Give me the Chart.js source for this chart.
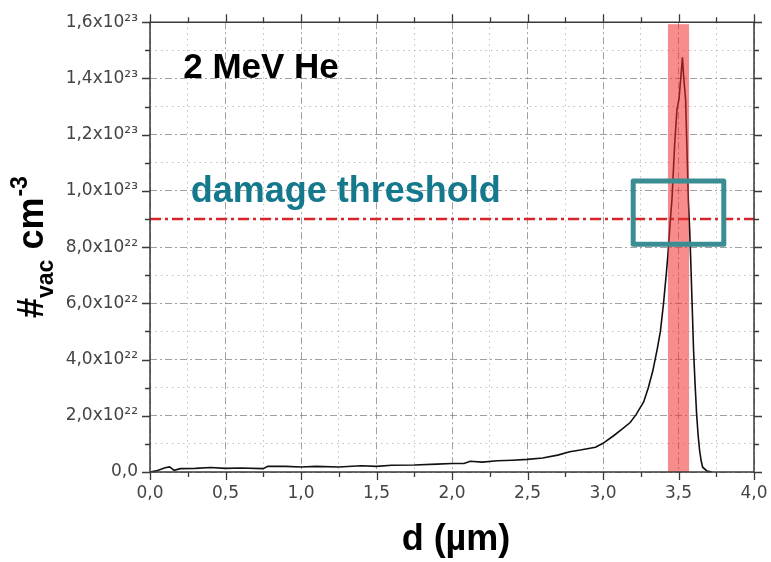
<!DOCTYPE html>
<html>
<head>
<meta charset="utf-8">
<script src="https://cdn.jsdelivr.net/npm/chart.js@4.4.1/dist/chart.umd.min.js"></script>
<style>
  html, body { margin: 0; padding: 0; background: #fff; }
  #wrap { width: 771px; height: 562px; }
</style>
</head>
<body>
<div id="wrap"><canvas id="vacChart"></canvas></div>
<script>
// depth in µm, vacancies in units of 1e22 cm^-3
const depth = [0, 0.05, 0.1, 0.13, 0.16, 0.2, 0.3, 0.4, 0.5, 0.6, 0.75, 0.78, 0.9, 1.0, 1.1, 1.25, 1.4, 1.5, 1.6, 1.75,
  1.9, 2.0, 2.08, 2.12, 2.2, 2.3, 2.4, 2.5, 2.6, 2.7, 2.78, 2.85, 2.95, 3.0, 3.07, 3.12, 3.18, 3.22, 3.27, 3.3,
  3.33, 3.36, 3.38, 3.4, 3.42, 3.43, 3.445, 3.457, 3.475, 3.49, 3.503, 3.515, 3.526, 3.535, 3.547, 3.556, 3.565,
  3.574, 3.58, 3.59, 3.6, 3.61, 3.62, 3.63, 3.64, 3.65, 3.66, 3.69, 3.72];
const vacancies = [0, 0.05, 0.15, 0.18, 0.06, 0.12, 0.13, 0.16, 0.13, 0.14, 0.12, 0.2, 0.2, 0.18, 0.2, 0.18, 0.22, 0.2, 0.24, 0.25,
  0.28, 0.3, 0.3, 0.38, 0.35, 0.4, 0.42, 0.45, 0.5, 0.6, 0.72, 0.78, 0.88, 1.02, 1.29, 1.5, 1.76, 2.05, 2.5, 3.0,
  3.6, 4.4, 5.0, 5.95, 7.1, 7.73, 8.9, 9.72, 11.7, 12.9, 13.25, 14.0, 14.75, 14.0, 13.25, 11.5, 9.7,
  8.6, 7.7, 6.0, 4.3, 3.1, 2.06, 1.3, 0.76, 0.4, 0.17, 0.03, 0];

const threshold = 9;               // 9e22
const peakBand = [3.43, 3.57];     // highlighted depth range
const markBox = [3.2, 3.8, 8.1, 10.35]; // x0, x1, y0, y1

const xTickLabels = ['0,0', '0,5', '1,0', '1,5', '2,0', '2,5', '3,0', '3,5', '4,0'];
const yTickLabels = ['0,0', '2,0x10²²', '4,0x10²²', '6,0x10²²', '8,0x10²²', '1,0x10²³', '1,2x10²³', '1,4x10²³', '1,6x10²³'];

const isMajorX = v => Math.abs(v * 2 - Math.round(v * 2)) < 1e-6;
const isMajorY = v => Math.abs(v / 2 - Math.round(v / 2)) < 1e-6;

const tickFont = { family: "'DejaVu Sans', sans-serif", size: 17 };

const extras = {
  id: 'extras',
  afterDatasetsDraw(chart) {
    const { ctx, chartArea: a, scales: { x, y } } = chart;
    ctx.save();
    // peak band
    ctx.fillStyle = 'rgba(238, 45, 45, 0.55)';
    const bx0 = x.getPixelForValue(peakBand[0]), bx1 = x.getPixelForValue(peakBand[1]);
    ctx.fillRect(bx0, a.top + 2, bx1 - bx0, a.bottom - a.top - 2);

    // teal box
    ctx.strokeStyle = '#3a8d92';
    ctx.lineWidth = 5;
    ctx.lineJoin = 'round';
    const rx0 = x.getPixelForValue(markBox[0]), rx1 = x.getPixelForValue(markBox[1]);
    const ry0 = y.getPixelForValue(markBox[3]), ry1 = y.getPixelForValue(markBox[2]);
    ctx.strokeRect(rx0, ry0, rx1 - rx0, ry1 - ry0);

    // frame
    ctx.strokeStyle = '#3a3a3a';
    ctx.lineWidth = 1.5;
    ctx.strokeRect(a.left, a.top, a.right - a.left, a.bottom - a.top);

    // ticks on all four sides, pointing out
    ctx.lineWidth = 1.3;
    ctx.beginPath();
    for (let v = 0; v <= 4.0001; v += 0.25) {
      const px = Math.round(x.getPixelForValue(v)) + 0.5;
      const len = isMajorX(v) ? 8 : 5;
      ctx.moveTo(px, a.bottom); ctx.lineTo(px, a.bottom + len);
      ctx.moveTo(px, a.top); ctx.lineTo(px, a.top - len);
    }
    for (let v = 0; v <= 16.0001; v += 1) {
      const py = Math.round(y.getPixelForValue(v)) + 0.5;
      const len = isMajorY(v) ? 8 : 5;
      ctx.moveTo(a.left, py); ctx.lineTo(a.left - len, py);
      ctx.moveTo(a.right, py); ctx.lineTo(a.right + len, py);
    }
    ctx.stroke();

    // labels in the plot
    ctx.textBaseline = 'alphabetic';
    ctx.textAlign = 'left';
    ctx.fillStyle = '#000';
    ctx.font = "bold 35px 'Liberation Sans', Arial, sans-serif";
    ctx.fillText('2 MeV He', x.getPixelForValue(0.22), y.getPixelForValue(14.0));
    ctx.fillStyle = '#15798d';
    ctx.font = "bold 36px 'Liberation Sans', Arial, sans-serif";
    ctx.fillText('damage threshold', x.getPixelForValue(0.27), y.getPixelForValue(9.6));

    // axis titles
    ctx.fillStyle = '#000';
    ctx.textAlign = 'center';
    ctx.font = "bold 36px 'Liberation Sans', Arial, sans-serif";
    ctx.fillText('d (µm)', (a.left + a.right) / 2 + 4, 550);

    ctx.translate(43, 318);
    ctx.rotate(-Math.PI / 2);
    ctx.textAlign = 'left';
    let cx = 0;
    const big = "bold 36px 'Liberation Sans', Arial, sans-serif";
    const small = "bold 23px 'Liberation Sans', Arial, sans-serif";
    ctx.font = big; ctx.fillText('#', cx, 0); cx += ctx.measureText('#').width;
    ctx.font = small; ctx.fillText('vac', cx, 10); cx += ctx.measureText('vac').width;
    ctx.font = big; ctx.fillText(' cm', cx, 0); cx += ctx.measureText(' cm').width;
    ctx.font = small; ctx.fillText('-3', cx + 1, -16);
    ctx.restore();
  }
};

const gridDash = (ctx, major) => {
  if (!ctx.tick) return [];
  return major(ctx.tick.value) ? [7, 3, 2, 3] : [1.5, 4];
};

new Chart(document.getElementById('vacChart').getContext('2d'), {
  type: 'line',
  data: {
    datasets: [
      {
        label: 'vacancies',
        data: depth.map((d, i) => ({ x: d, y: vacancies[i] })),
        borderColor: '#111',
        borderWidth: 1.6,
        pointRadius: 0,
        tension: 0,
        fill: false
      },
      {
        label: 'damage threshold',
        data: [{ x: 0, y: threshold }, { x: 4, y: threshold }],
        borderColor: '#d4262b',
        borderWidth: 2.5,
        borderDash: [11, 4, 3, 4],
        pointRadius: 0,
        fill: false
      }
    ]
  },
  options: {
    responsive: true,
    maintainAspectRatio: false,
    animation: false,
    events: [],
    layout: { padding: { top: 21, right: 0, left: 0, bottom: 0 } },
    plugins: {
      legend: { display: false },
      tooltip: { enabled: false }
    },
    scales: {
      x: {
        type: 'linear',
        min: 0,
        max: 4,
        afterFit: s => { s.height = 90; s.paddingRight = 17; s.paddingLeft = 0; },
        afterBuildTicks: s => {
          s.ticks = [];
          for (let i = 0; i <= 16; i++) s.ticks.push({ value: i * 0.25 });
        },
        ticks: {
          autoSkip: false,
          maxRotation: 0,
          padding: 11,
          color: '#444',
          font: tickFont,
          callback: v => isMajorX(v) ? xTickLabels[Math.round(v * 2)] : ''
        },
        grid: {
          drawTicks: false,
          color: c => c.tick && isMajorX(c.tick.value) ? 'rgba(120,120,120,0.7)' : 'rgba(165,165,165,0.7)',
          lineWidth: 1
        },
        border: { display: false, dash: c => gridDash(c, isMajorX) }
      },
      y: {
        type: 'linear',
        min: 0,
        max: 16,
        afterFit: s => { s.width = 150; },
        afterBuildTicks: s => {
          s.ticks = [];
          for (let i = 0; i <= 16; i++) s.ticks.push({ value: i });
        },
        ticks: {
          autoSkip: false,
          padding: 12,
          color: '#444',
          font: tickFont,
          callback: v => isMajorY(v) ? yTickLabels[Math.round(v / 2)] : ''
        },
        grid: {
          drawTicks: false,
          color: c => c.tick && isMajorY(c.tick.value) ? 'rgba(120,120,120,0.7)' : 'rgba(165,165,165,0.7)',
          lineWidth: 1
        },
        border: { display: false, dash: c => gridDash(c, isMajorY) }
      }
    }
  },
  plugins: [extras]
});
</script>
</body>
</html>
